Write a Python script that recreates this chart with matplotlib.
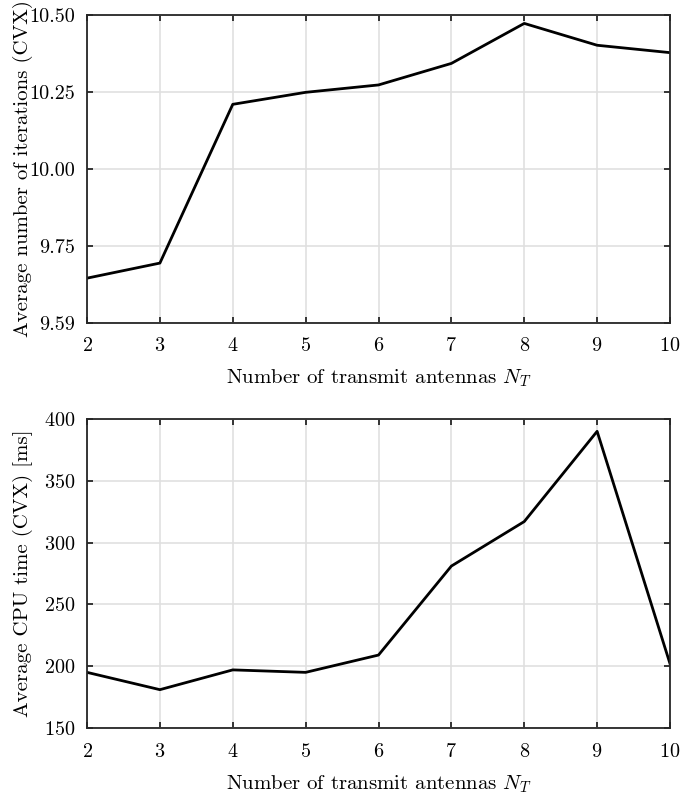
#!/usr/bin/env python3

import matplotlib

matplotlib.use("Agg")
import matplotlib.pyplot as plt

plt.rcParams["font.family"] = "serif"
plt.rcParams["font.serif"] = ["cmr10"]
plt.rcParams["mathtext.fontset"] = "cm"
plt.rcParams["axes.formatter.use_mathtext"] = True

antennas = [2, 3, 4, 5, 6, 7, 8, 9, 10]
iterations = [9.645, 9.694, 10.210, 10.249, 10.273, 10.343, 10.473, 10.402, 10.378]
cpu_time = [195, 181, 197, 195, 209, 281, 317, 390, 202]

iter_ticks = [9.5, 9.75, 10.0, 10.25, 10.5]
iter_tick_labels = ["9.59", "9.75", "10.00", "10.25", "10.50"]
cpu_ticks = [150, 200, 250, 300, 350, 400]

xlabel = r"Number of transmit antennas $N_T$"


def style_axes(ax):
    for spine in ax.spines.values():
        spine.set_color("#262626")
        spine.set_linewidth(1.3)
    ax.tick_params(
        direction="in", length=4.5, width=1.3, color="#262626",
        top=True, right=True, labelsize=14.5,
    )
    ax.tick_params(axis="x", pad=10.5)
    ax.tick_params(axis="y", pad=8.6)
    ax.grid(True, color="#e0e0e0", linewidth=1.2)
    ax.set_axisbelow(True)
    ax.set_xlim(2, 10)
    ax.set_xticks(antennas)
    ax.set_xlabel(xlabel, fontsize=15)
    ax.xaxis.set_label_coords(0.5, -0.146)


def main():
    fig = plt.figure(figsize=(6.99, 7.95), dpi=100)

    ax1 = fig.add_axes([0.1245, 0.594, 0.834, 0.387])
    ax1.plot(antennas, iterations, color="black", linewidth=2)
    style_axes(ax1)
    ax1.set_ylim(9.5, 10.5)
    ax1.set_yticks(iter_ticks)
    ax1.set_yticklabels(iter_tick_labels)
    ax1.set_ylabel("Average number of iterations (CVX)", fontsize=15)
    ax1.yaxis.set_label_coords(-0.092, 0.5)

    ax2 = fig.add_axes([0.1245, 0.0843, 0.834, 0.3887])
    ax2.plot(antennas, cpu_time, color="black", linewidth=2)
    style_axes(ax2)
    ax2.set_ylim(150, 400)
    ax2.set_yticks(cpu_ticks)
    ax2.set_ylabel("Average CPU time (CVX) [ms]", fontsize=15)
    ax2.yaxis.set_label_coords(-0.092, 0.5)

    fig.savefig("out.png", dpi=100)


if __name__ == "__main__":
    main()
